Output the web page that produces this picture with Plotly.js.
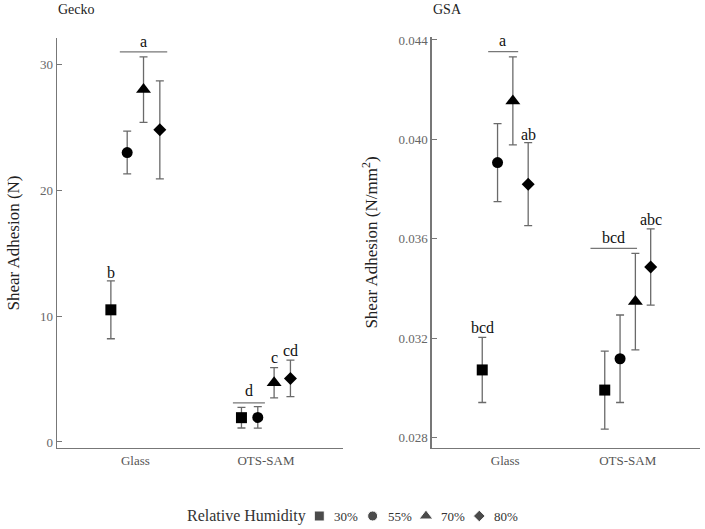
<!DOCTYPE html>
<html>
<head>
<meta charset="utf-8">
<script src="https://cdn.plot.ly/plotly-3.0.1.min.js"></script>
<style>html,body{margin:0;padding:0;background:#fff}#chart{width:705px;height:529px}</style>
</head>
<body>
<div id="chart"></div>
<script>
// ---- data ----
var categories = ['Glass', 'OTS-SAM'];
var humidity = ['30%', '55%', '70%', '80%'];
var symbols = ['square', 'circle', 'triangle-up', 'diamond'];

// Gecko: shear adhesion (N), per humidity level [Glass, OTS-SAM]
var gecko30 = [10.5, 1.93];
var gecko55 = [23.0, 1.95];
var gecko70 = [28.0, 4.7];
var gecko80 = [24.8, 5.05];
var geckoErr30 = [2.3, 0.82];
var geckoErr55 = [1.7, 0.85];
var geckoErr70 = [2.6, 1.2];
var geckoErr80 = [3.9, 1.45];

// GSA: shear adhesion (N/mm^2)
var gsa30 = [0.03073, 0.02992];
var gsa55 = [0.03907, 0.03118];
var gsa70 = [0.04155, 0.03348];
var gsa80 = [0.03820, 0.03487];
var gsaErr30 = [0.00131, 0.00157];
var gsaErr55 = [0.00157, 0.00176];
var gsaErr70 = [0.00177, 0.00194];
var gsaErr80 = [0.00167, 0.00153];

// significance letters
var geckoLetters = ['a', 'b', 'd', 'c', 'cd'];
var gsaLetters = ['a', 'ab', 'bcd', 'bcd', 'abc'];

var geckoVals = [gecko30, gecko55, gecko70, gecko80];
var geckoErrs = [geckoErr30, geckoErr55, geckoErr70, geckoErr80];
var gsaVals = [gsa30, gsa55, gsa70, gsa80];
var gsaErrs = [gsaErr30, gsaErr55, gsaErr70, gsaErr80];

var FONT = 'Liberation Serif';
var sizes = [11, 11, 13, 10];
var legSizes = [10, 10, 12, 9];
var ERRC = '#6a6a6a';
var LC = '#777';

var traces = [];
function addTraces(vals, errs, xa, ya) {
  for (var k = 0; k < 4; k++) {
    traces.push({
      type: 'scatter', mode: 'markers',
      x: categories, y: vals[k],
      xaxis: xa, yaxis: ya,
      name: humidity[k], showlegend: false,
      offsetgroup: humidity[k],
      marker: {symbol: symbols[k], size: sizes[k], color: '#000'},
      error_y: {type: 'data', array: errs[k], visible: true, color: ERRC, thickness: 1.3, width: 4},
      cliponaxis: false
    });
  }
}
addTraces(geckoVals, geckoErrs, 'x', 'y');
addTraces(gsaVals, gsaErrs, 'x2', 'y2');

// key (legend) row
traces.push({
  type: 'scatter', mode: 'markers', xaxis: 'x3', yaxis: 'y3',
  x: humidity, y: humidity.map(function () { return 0; }),
  marker: {symbol: symbols, size: legSizes, color: '#000'},
  showlegend: false, cliponaxis: false, hoverinfo: 'skip'
});

function ann(xref, yref, x, y, t) {
  return {xref: xref, yref: yref, x: x, y: y, text: t, showarrow: false,
          font: {family: FONT, size: 16, color: '#111'}};
}
var annotations = [
  ann('x', 'y', 0.065, 31.85, geckoLetters[0]),
  ann('x', 'y', -0.1875, 13.5, geckoLetters[1]),
  ann('x', 'y', 0.867, 4.05, geckoLetters[2]),
  ann('x', 'y', 1.0625, 6.75, geckoLetters[3]),
  ann('x', 'y', 1.1875, 7.3, geckoLetters[4]),
  ann('x2', 'y2', -0.021, 0.04396, gsaLetters[0]),
  ann('x2', 'y2', 0.1875, 0.04021, gsaLetters[1]),
  ann('x2', 'y2', -0.1875, 0.03245, gsaLetters[2]),
  ann('x2', 'y2', 0.880, 0.03607, gsaLetters[3]),
  ann('x2', 'y2', 1.1875, 0.03679, gsaLetters[4]),
  {xref: 'paper', yref: 'paper', x: 56/705, y: 1 - 9/529, xanchor: 'left', yanchor: 'middle',
   text: 'Gecko', showarrow: false, font: {family: FONT, size: 14, color: '#222'}},
  {xref: 'paper', yref: 'paper', x: 431/705, y: 1 - 9/529, xanchor: 'left', yanchor: 'middle',
   text: 'GSA', showarrow: false, font: {family: FONT, size: 14, color: '#222'}},
  {xref: 'paper', yref: 'paper', x: 185/705, y: 1 - 516/529, xanchor: 'left', yanchor: 'middle',
   text: 'Relative Humidity', showarrow: false, font: {family: FONT, size: 16, color: '#333'}}
];
humidity.forEach(function (h) {
  annotations.push({xref: 'x3', yref: 'y3', x: h, y: 0, xanchor: 'left', yanchor: 'middle',
    xshift: 13, text: h, showarrow: false, font: {family: FONT, size: 13, color: '#333'}});
});

var shapes = [
  {type: 'line', xref: 'x', yref: 'y', x0: -0.119, x1: 0.244, y0: 31.0, y1: 31.0, line: {color: LC, width: 1.2}},
  {type: 'line', xref: 'x', yref: 'y', x0: 0.747, x1: 0.992, y0: 3.1, y1: 3.1, line: {color: LC, width: 1.2}},
  {type: 'line', xref: 'x2', yref: 'y2', x0: -0.139, x1: 0.106, y0: 0.04353, y1: 0.04353, line: {color: LC, width: 1.2}},
  {type: 'line', xref: 'x2', yref: 'y2', x0: 0.696, x1: 1.076, y0: 0.03562, y1: 0.03562, line: {color: LC, width: 1.2}}
];

var xbase = {
  type: 'category', range: [-0.6, 1.59], showgrid: false, zeroline: false,
  showline: true, linecolor: LC, linewidth: 1.3, ticks: '', automargin: false,
  tickfont: {family: FONT, size: 13, color: '#555'}, fixedrange: true
};
var ybase = {
  showgrid: false, zeroline: false, showline: true, linecolor: LC, linewidth: 1.3,
  ticks: 'inside', ticklen: 5, tickcolor: LC, automargin: false,
  tickfont: {family: FONT, size: 13, color: '#666'}, fixedrange: true
};
function merge(a, b) { var o = {}; for (var k in a) o[k] = a[k]; for (var k2 in b) o[k2] = b[k2]; return o; }

var layout = {
  width: 705, height: 529,
  margin: {l: 0, r: 0, t: 0, b: 0},
  paper_bgcolor: '#fff', plot_bgcolor: 'rgba(0,0,0,0)',
  font: {family: FONT, color: '#222'},
  scattermode: 'group', scattergap: 0.5,
  showlegend: false,
  xaxis: merge(xbase, {domain: [57/705, 343/705], anchor: 'y'}),
  yaxis: merge(ybase, {domain: [1 - 448/529, 1 - 38/529], anchor: 'x', range: [-0.48, 32.1],
    tickvals: [0, 10, 20, 30],
    title: {text: 'Shear Adhesion (N)', font: {family: FONT, size: 17, color: '#222'}, standoff: 16}}),
  xaxis2: merge(xbase, {domain: [431.7/705, 700/705], anchor: 'y2'}),
  yaxis2: merge(ybase, {domain: [1 - 448/529, 1 - 37/529], anchor: 'x2', range: [0.02759, 0.04412],
    tickvals: [0.028, 0.032, 0.036, 0.040, 0.044], tickformat: '.3f',
    title: {text: 'Shear Adhesion (N/mm<sup>2</sup>)', font: {family: FONT, size: 17, color: '#222'}, standoff: 16}}),
  xaxis3: {domain: [319.3/705, 479.3/705], range: [0, 3], type: 'category', visible: false, anchor: 'y3', fixedrange: true},
  yaxis3: {domain: [1 - 522/529, 1 - 510/529], range: [-1, 1], visible: false, anchor: 'x3', fixedrange: true},
  annotations: annotations,
  shapes: shapes
};

Plotly.newPlot('chart', traces, layout, {displayModeBar: false, staticPlot: true});
</script>
</body>
</html>
